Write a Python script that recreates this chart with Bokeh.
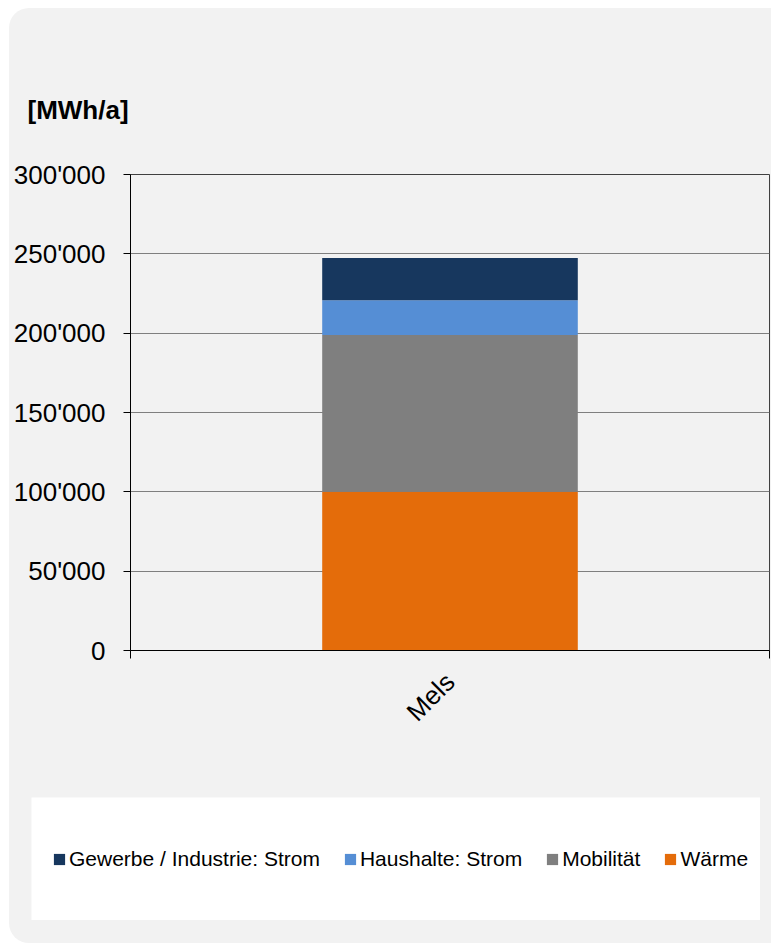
from math import pi
from bokeh.plotting import figure
from bokeh.models import (ColumnDataSource, FactorRange, Range1d, FixedTicker,
                          LinearAxis, Legend, LegendItem)
from bokeh.layouts import column
from bokeh.embed import file_html
from bokeh.resources import INLINE

# ---------------- data ----------------
categories = ["Mels"]
waerme = [100000]
mobilitaet = [98800]
haushalte_strom = [22000]
gewerbe_strom = [26500]

series_keys = ["waerme", "mobilitaet", "haushalte", "gewerbe"]
series_names = ["Wärme", "Mobilität", "Haushalte: Strom", "Gewerbe / Industrie: Strom"]
colors = ["#e46c0a", "#7f7f7f", "#558ed5", "#17375e"]

y_ticks = [0, 50000, 100000, 150000, 200000, 250000, 300000]
y_tick_labels = ["0", "50'000", "100'000", "150'000", "200'000", "250'000", "300'000"]
unit_label = "[MWh/a]"

FONT = "Liberation Sans"

source = ColumnDataSource(dict(categories=categories, waerme=waerme, mobilitaet=mobilitaet,
                               haushalte=haushalte_strom, gewerbe=gewerbe_strom))

# ---------------- main chart ----------------
p = figure(x_range=FactorRange(factors=categories), y_range=Range1d(0, 300000),
           width=762, height=789, output_backend="svg", toolbar_location=None,
           x_axis_location=None, y_axis_location="left",
           min_border_left=121, min_border_right=2, min_border_top=166, min_border_bottom=147,
           background_fill_color=None, border_fill_color=None,
           outline_line_color="#404040")
p.frame_align = False

p.vbar_stack(series_keys, x="categories", width=0.4, color=colors, line_color=None, source=source)

p.title.text = unit_label
p.title.align = "left"
p.title.offset = -103
p.title.standoff = 100
p.title.text_font = FONT
p.title.text_font_style = "bold"
p.title.text_font_size = "26px"
p.title.text_color = "black"

p.xgrid.visible = False
p.ygrid.ticker = FixedTicker(ticks=y_ticks)
p.ygrid.grid_line_color = "#7f7f7f"

yax = p.yaxis[0]
yax.ticker = FixedTicker(ticks=y_ticks)
yax.major_label_overrides = dict(zip(y_ticks, y_tick_labels))
yax.axis_line_color = "black"
yax.major_tick_line_color = "black"
yax.major_tick_out = 7
yax.major_tick_in = 0
yax.minor_tick_line_color = None
yax.major_label_standoff = 18
yax.major_label_text_font = FONT
yax.major_label_text_font_size = "26px"
yax.major_label_text_color = "black"

centers = [i + 0.5 for i in range(len(categories))]
bounds = [float(i) for i in range(len(categories) + 1)]
xax = LinearAxis(ticker=FixedTicker(ticks=centers, minor_ticks=bounds),
                 major_label_overrides=dict(zip(centers, categories)),
                 major_label_orientation=pi / 4,
                 axis_line_color="black",
                 major_tick_line_color=None, major_tick_out=0, major_tick_in=0,
                 minor_tick_line_color="black", minor_tick_out=8, minor_tick_in=0,
                 major_label_standoff=19,
                 major_label_text_font=FONT, major_label_text_font_size="26px",
                 major_label_text_color="black")
p.add_layout(xax, "below")

# ---------------- legend box ----------------
lf = figure(x_range=FactorRange(factors=categories), y_range=Range1d(0, 300000),
            width=729, height=123, output_backend="svg", toolbar_location=None,
            x_axis_location=None, y_axis_location=None, min_border=0,
            background_fill_color="white", border_fill_color="white",
            outline_line_color=None)
lf.frame_align = False
lf.xgrid.visible = False
lf.ygrid.visible = False
lrs = lf.vbar_stack(series_keys, x="categories", width=0.4, color=colors, line_color=None,
                    source=source, visible=False)
items = [LegendItem(label=n, renderers=[r]) for n, r in zip(series_names, lrs)][::-1]
legend = Legend(items=items, location="left", orientation="horizontal",
                padding=0, margin=21, spacing=23, glyph_width=14, glyph_height=14,
                label_standoff=3, border_line_color=None, background_fill_alpha=0,
                click_policy="none",
                label_text_font=FONT, label_text_font_size="21px", label_text_color="black")
lf.add_layout(legend, "center")
lf.margin = (0, 0, 0, 22)

layout = column(p, lf, spacing=0, width=762, height=935, margin=(8, 0, 0, 9),
                styles={"background-color": "#f2f2f2", "border-radius": "20px 0 0 20px"})

open("out.html", "w").write(file_html(layout, INLINE))
